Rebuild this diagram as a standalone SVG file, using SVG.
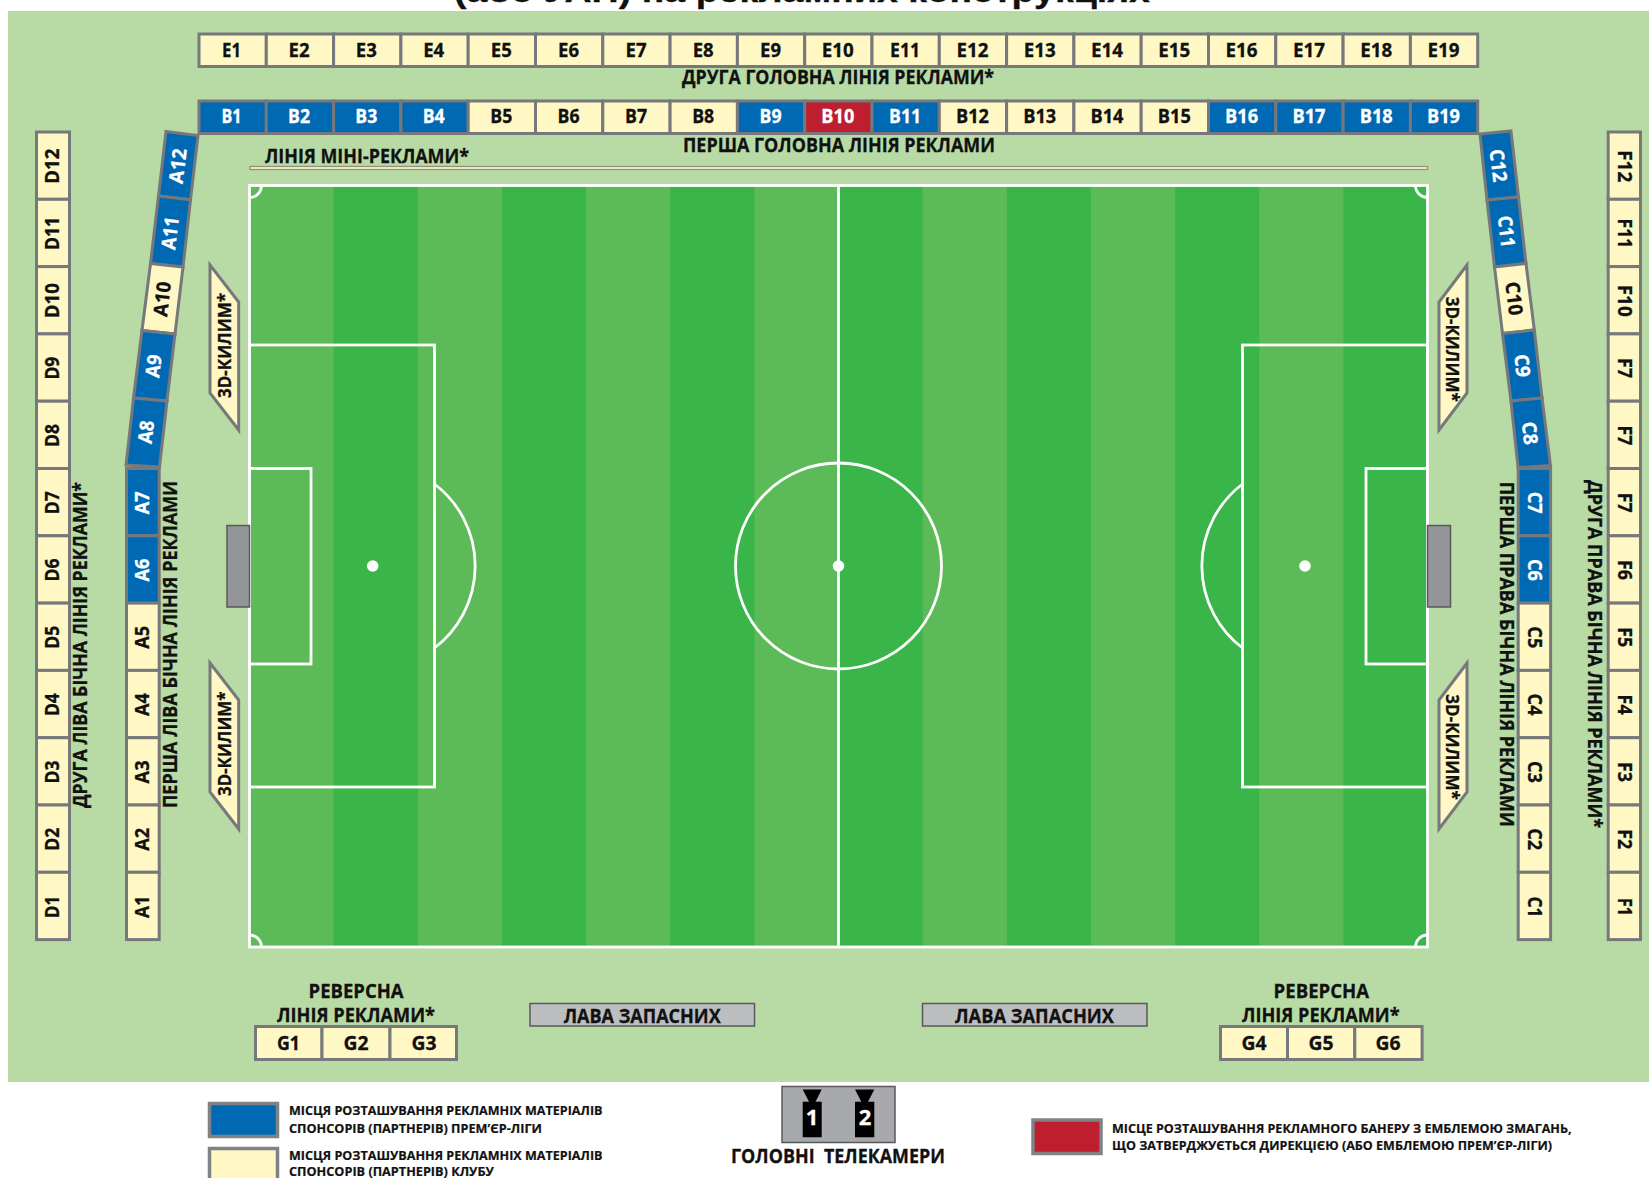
<svg xmlns="http://www.w3.org/2000/svg" width="1649" height="1178" viewBox="0 0 1649 1178">
<style>
text{font-family:"Open Sans","Noto Sans","DejaVu Sans",sans-serif;font-weight:700;fill:#111;stroke:#111;stroke-width:.3}
.l{font-size:19.5px;text-anchor:middle}
.t{fill:#fff;stroke:#fff}
.h{font-size:20px}
.m{font-size:20px;text-anchor:middle}
.k{font-size:18px}
.s{font-size:12.5px;stroke-width:.2}
.ttl{font-family:"Liberation Sans",Arial,sans-serif;font-size:32px}
.c{stroke:#77787b;stroke-width:3}
.y{fill:#fff8c4}.b{fill:#0069b4}.r{fill:#be1e2d}
.ln{fill:none;stroke:#fff;stroke-width:2.8}
.dk{fill:#39b54a}
.cam{fill:#000}
</style>
<rect width="1649" height="1178" fill="#fff"/>
<text class="ttl" x="454" y="2" textLength="696" lengthAdjust="spacingAndGlyphs">(або УАН) на рекламних конструкціях</text>
<rect id="ground" x="8" y="11" width="1641" height="1071" fill="#b8dba5"/>

<g id="field">
<rect x="249.5" y="185.5" width="1178" height="761.5" fill="#5cbb58"/>
<rect class="dk" x="333.6" y="185.5" width="84.2" height="761.5"/>
<rect class="dk" x="501.9" y="185.5" width="84.2" height="761.5"/>
<rect class="dk" x="670.2" y="185.5" width="84.2" height="761.5"/>
<rect class="dk" x="838.5" y="185.5" width="84.1" height="761.5"/>
<rect class="dk" x="1006.8" y="185.5" width="84.1" height="761.5"/>
<rect class="dk" x="1175.1" y="185.5" width="84.1" height="761.5"/>
<rect class="dk" x="1343.4" y="185.5" width="84.1" height="761.5"/>
<rect class="ln" x="249.5" y="185.5" width="1178" height="761.5"/>
<path class="ln" d="M838.5 185.5V947"/>
<circle class="ln" cx="838.5" cy="566" r="103"/>
<circle cx="838.5" cy="566" r="5.8" fill="#fff"/>
<rect class="ln" x="249.5" y="345" width="185" height="442"/>
<rect class="ln" x="249.5" y="468.5" width="61.5" height="195.5"/>
<circle cx="372.7" cy="566" r="5.8" fill="#fff"/>
<path class="ln" d="M434.5 484A103 103 0 0 1 434.5 648"/>
<rect class="ln" x="1242.5" y="345" width="185" height="442"/>
<rect class="ln" x="1366" y="468.5" width="61.5" height="195.5"/>
<circle cx="1305" cy="566" r="5.8" fill="#fff"/>
<path class="ln" d="M1242.5 484A103 103 0 0 0 1242.5 648"/>
<path class="ln" d="M261.5 185.5A12 12 0 0 1 249.5 197.5M1415.5 185.5A12 12 0 0 0 1427.5 197.5M249.5 935A12 12 0 0 1 261.5 947M1427.5 935A12 12 0 0 0 1415.5 947"/>
</g>

<g id="goal-left"><rect x="227" y="525.5" width="22.5" height="81.5" fill="#939598" stroke="#58595b" stroke-width="1.5"/></g>
<g id="goal-right"><rect x="1427.5" y="525.5" width="23" height="81.5" fill="#939598" stroke="#58595b" stroke-width="1.5"/></g>

<g id="mini-line"><rect x="250" y="166.5" width="1177.5" height="3" fill="#fff8c4" stroke="#8f8f80" stroke-width="1.3"/>
<text class="h" x="265" y="163" textLength="204" lengthAdjust="spacingAndGlyphs">ЛІНІЯ МІНІ-РЕКЛАМИ*</text></g>

<g id="labels">
<text class="h" x="682" y="84" textLength="312" lengthAdjust="spacingAndGlyphs">ДРУГА ГОЛОВНА ЛІНІЯ РЕКЛАМИ*</text>
<text class="h" x="683" y="151.5" textLength="312" lengthAdjust="spacingAndGlyphs">ПЕРША ГОЛОВНА ЛІНІЯ РЕКЛАМИ</text>
<text class="h" transform="translate(87 808) rotate(-90)" textLength="326" lengthAdjust="spacingAndGlyphs">ДРУГА ЛІВА БІЧНА ЛІНІЯ РЕКЛАМИ*</text>
<text class="h" transform="translate(176.7 808) rotate(-90)" textLength="327" lengthAdjust="spacingAndGlyphs">ПЕРША ЛІВА БІЧНА ЛІНІЯ РЕКЛАМИ</text>
<text class="h" transform="translate(1499.5 481.7) rotate(90)" textLength="345" lengthAdjust="spacingAndGlyphs">ПЕРША ПРАВА БІЧНА ЛІНІЯ РЕКЛАМИ</text>
<text class="h" transform="translate(1587.7 480) rotate(90)" textLength="348" lengthAdjust="spacingAndGlyphs">ДРУГА ПРАВА БІЧНА ЛІНІЯ РЕКЛАМИ*</text>
<text class="h" x="308.6" y="998" textLength="95" lengthAdjust="spacingAndGlyphs">РЕВЕРСНА</text>
<text class="h" x="277" y="1021.7" textLength="158" lengthAdjust="spacingAndGlyphs">ЛІНІЯ РЕКЛАМИ*</text>
<text class="h" x="1273.6" y="998" textLength="95.5" lengthAdjust="spacingAndGlyphs">РЕВЕРСНА</text>
<text class="h" x="1242" y="1021.7" textLength="157.5" lengthAdjust="spacingAndGlyphs">ЛІНІЯ РЕКЛАМИ*</text>
</g>

<g id="carpet-1"><polygon class="c y" points="210,265 238.7,302 238.7,430 210,393"/><text class="k" transform="translate(230.7 398) rotate(-90)" textLength="105" lengthAdjust="spacingAndGlyphs">3D-КИЛИМ*</text></g>
<g id="carpet-2"><polygon class="c y" points="210,663 238.7,700 238.7,829 210,792"/><text class="k" transform="translate(230.7 796) rotate(-90)" textLength="104.5" lengthAdjust="spacingAndGlyphs">3D-КИЛИМ*</text></g>
<g id="carpet-3"><polygon class="c y" points="1467,265 1439,302 1439,430 1467,393"/><text class="k" transform="translate(1445.7 296.7) rotate(90)" textLength="105" lengthAdjust="spacingAndGlyphs">3D-КИЛИМ*</text></g>
<g id="carpet-4"><polygon class="c y" points="1467,663 1439,700 1439,829 1467,792"/><text class="k" transform="translate(1445.7 694.3) rotate(90)" textLength="105.5" lengthAdjust="spacingAndGlyphs">3D-КИЛИМ*</text></g>

<g id="E1"><rect class="c y" x="199" y="34" width="67.3" height="32.5"/><text class="l" x="231.5" y="56.7" textLength="19" lengthAdjust="spacingAndGlyphs">E1</text></g>
<g id="E2"><rect class="c y" x="266.3" y="34" width="67.3" height="32.5"/><text class="l" x="299" y="56.7" textLength="21" lengthAdjust="spacingAndGlyphs">E2</text></g>
<g id="E3"><rect class="c y" x="333.6" y="34" width="67.3" height="32.5"/><text class="l" x="366.3" y="56.7" textLength="21" lengthAdjust="spacingAndGlyphs">E3</text></g>
<g id="E4"><rect class="c y" x="400.9" y="34" width="67.3" height="32.5"/><text class="l" x="433.7" y="56.7" textLength="21" lengthAdjust="spacingAndGlyphs">E4</text></g>
<g id="E5"><rect class="c y" x="468.2" y="34" width="67.3" height="32.5"/><text class="l" x="501.3" y="56.7" textLength="21" lengthAdjust="spacingAndGlyphs">E5</text></g>
<g id="E6"><rect class="c y" x="535.5" y="34" width="67.3" height="32.5"/><text class="l" x="568.6" y="56.7" textLength="21" lengthAdjust="spacingAndGlyphs">E6</text></g>
<g id="E7"><rect class="c y" x="602.8" y="34" width="67.3" height="32.5"/><text class="l" x="636" y="56.7" textLength="21" lengthAdjust="spacingAndGlyphs">E7</text></g>
<g id="E8"><rect class="c y" x="670.1" y="34" width="67.3" height="32.5"/><text class="l" x="703.2" y="56.7" textLength="21" lengthAdjust="spacingAndGlyphs">E8</text></g>
<g id="E9"><rect class="c y" x="737.4" y="34" width="67.3" height="32.5"/><text class="l" x="770.5" y="56.7" textLength="21" lengthAdjust="spacingAndGlyphs">E9</text></g>
<g id="E10"><rect class="c y" x="804.7" y="34" width="67.3" height="32.5"/><text class="l" x="837.8" y="56.7" textLength="32" lengthAdjust="spacingAndGlyphs">E10</text></g>
<g id="E11"><rect class="c y" x="872" y="34" width="67.3" height="32.5"/><text class="l" x="905.1" y="56.7" textLength="30" lengthAdjust="spacingAndGlyphs">E11</text></g>
<g id="E12"><rect class="c y" x="939.3" y="34" width="67.3" height="32.5"/><text class="l" x="972.5" y="56.7" textLength="32" lengthAdjust="spacingAndGlyphs">E12</text></g>
<g id="E13"><rect class="c y" x="1006.6" y="34" width="67.3" height="32.5"/><text class="l" x="1039.7" y="56.7" textLength="32" lengthAdjust="spacingAndGlyphs">E13</text></g>
<g id="E14"><rect class="c y" x="1073.9" y="34" width="67.3" height="32.5"/><text class="l" x="1107" y="56.7" textLength="32" lengthAdjust="spacingAndGlyphs">E14</text></g>
<g id="E15"><rect class="c y" x="1141.2" y="34" width="67.3" height="32.5"/><text class="l" x="1174.3" y="56.7" textLength="32" lengthAdjust="spacingAndGlyphs">E15</text></g>
<g id="E16"><rect class="c y" x="1208.5" y="34" width="67.3" height="32.5"/><text class="l" x="1241.6" y="56.7" textLength="32" lengthAdjust="spacingAndGlyphs">E16</text></g>
<g id="E17"><rect class="c y" x="1275.8" y="34" width="67.3" height="32.5"/><text class="l" x="1309" y="56.7" textLength="32" lengthAdjust="spacingAndGlyphs">E17</text></g>
<g id="E18"><rect class="c y" x="1343.1" y="34" width="67.3" height="32.5"/><text class="l" x="1376.2" y="56.7" textLength="32" lengthAdjust="spacingAndGlyphs">E18</text></g>
<g id="E19"><rect class="c y" x="1410.4" y="34" width="67.3" height="32.5"/><text class="l" x="1443.5" y="56.7" textLength="32" lengthAdjust="spacingAndGlyphs">E19</text></g>

<g id="B1"><rect class="c b" x="199" y="101" width="67.3" height="32.5"/><text class="l t" x="231.5" y="123.3" textLength="20" lengthAdjust="spacingAndGlyphs">B1</text></g>
<g id="B2"><rect class="c b" x="266.3" y="101" width="67.3" height="32.5"/><text class="l t" x="299" y="123.3" textLength="22" lengthAdjust="spacingAndGlyphs">B2</text></g>
<g id="B3"><rect class="c b" x="333.6" y="101" width="67.3" height="32.5"/><text class="l t" x="366.3" y="123.3" textLength="22" lengthAdjust="spacingAndGlyphs">B3</text></g>
<g id="B4"><rect class="c b" x="400.9" y="101" width="67.3" height="32.5"/><text class="l t" x="433.7" y="123.3" textLength="22" lengthAdjust="spacingAndGlyphs">B4</text></g>
<g id="B5"><rect class="c y" x="468.2" y="101" width="67.3" height="32.5"/><text class="l" x="501.3" y="123.3" textLength="22" lengthAdjust="spacingAndGlyphs">B5</text></g>
<g id="B6"><rect class="c y" x="535.5" y="101" width="67.3" height="32.5"/><text class="l" x="568.6" y="123.3" textLength="22" lengthAdjust="spacingAndGlyphs">B6</text></g>
<g id="B7"><rect class="c y" x="602.8" y="101" width="67.3" height="32.5"/><text class="l" x="636" y="123.3" textLength="22" lengthAdjust="spacingAndGlyphs">B7</text></g>
<g id="B8"><rect class="c y" x="670.1" y="101" width="67.3" height="32.5"/><text class="l" x="703.2" y="123.3" textLength="22" lengthAdjust="spacingAndGlyphs">B8</text></g>
<g id="B9"><rect class="c b" x="737.4" y="101" width="67.3" height="32.5"/><text class="l t" x="770.5" y="123.3" textLength="22" lengthAdjust="spacingAndGlyphs">B9</text></g>
<g id="B10"><rect class="c r" x="804.7" y="101" width="67.3" height="32.5"/><text class="l t" x="837.8" y="123.3" textLength="33" lengthAdjust="spacingAndGlyphs">B10</text></g>
<g id="B11"><rect class="c b" x="872" y="101" width="67.3" height="32.5"/><text class="l t" x="905.1" y="123.3" textLength="32" lengthAdjust="spacingAndGlyphs">B11</text></g>
<g id="B12"><rect class="c y" x="939.3" y="101" width="67.3" height="32.5"/><text class="l" x="972.5" y="123.3" textLength="33" lengthAdjust="spacingAndGlyphs">B12</text></g>
<g id="B13"><rect class="c y" x="1006.6" y="101" width="67.3" height="32.5"/><text class="l" x="1039.7" y="123.3" textLength="33" lengthAdjust="spacingAndGlyphs">B13</text></g>
<g id="B14"><rect class="c y" x="1073.9" y="101" width="67.3" height="32.5"/><text class="l" x="1107" y="123.3" textLength="33" lengthAdjust="spacingAndGlyphs">B14</text></g>
<g id="B15"><rect class="c y" x="1141.2" y="101" width="67.3" height="32.5"/><text class="l" x="1174.3" y="123.3" textLength="33" lengthAdjust="spacingAndGlyphs">B15</text></g>
<g id="B16"><rect class="c b" x="1208.5" y="101" width="67.3" height="32.5"/><text class="l t" x="1241.6" y="123.3" textLength="33" lengthAdjust="spacingAndGlyphs">B16</text></g>
<g id="B17"><rect class="c b" x="1275.8" y="101" width="67.3" height="32.5"/><text class="l t" x="1309" y="123.3" textLength="33" lengthAdjust="spacingAndGlyphs">B17</text></g>
<g id="B18"><rect class="c b" x="1343.1" y="101" width="67.3" height="32.5"/><text class="l t" x="1376.2" y="123.3" textLength="33" lengthAdjust="spacingAndGlyphs">B18</text></g>
<g id="B19"><rect class="c b" x="1410.4" y="101" width="67.3" height="32.5"/><text class="l t" x="1443.5" y="123.3" textLength="33" lengthAdjust="spacingAndGlyphs">B19</text></g>

<g id="D12"><rect class="c y" x="36.5" y="132" width="33" height="67.3"/><text class="l" transform="translate(51.5 166.2) rotate(-90)" y="7" textLength="35" lengthAdjust="spacingAndGlyphs">D12</text></g>
<g id="D11"><rect class="c y" x="36.5" y="199.3" width="33" height="67.3"/><text class="l" transform="translate(51.5 233.5) rotate(-90)" y="7" textLength="33" lengthAdjust="spacingAndGlyphs">D11</text></g>
<g id="D10"><rect class="c y" x="36.5" y="266.6" width="33" height="67.3"/><text class="l" transform="translate(51.5 300.7) rotate(-90)" y="7" textLength="35" lengthAdjust="spacingAndGlyphs">D10</text></g>
<g id="D9"><rect class="c y" x="36.5" y="333.9" width="33" height="67.3"/><text class="l" transform="translate(51.5 368.1) rotate(-90)" y="7" textLength="23" lengthAdjust="spacingAndGlyphs">D9</text></g>
<g id="D8"><rect class="c y" x="36.5" y="401.2" width="33" height="67.3"/><text class="l" transform="translate(51.5 435.4) rotate(-90)" y="7" textLength="23" lengthAdjust="spacingAndGlyphs">D8</text></g>
<g id="D7"><rect class="c y" x="36.5" y="468.5" width="33" height="67.3"/><text class="l" transform="translate(51.5 502.7) rotate(-90)" y="7" textLength="23" lengthAdjust="spacingAndGlyphs">D7</text></g>
<g id="D6"><rect class="c y" x="36.5" y="535.8" width="33" height="67.3"/><text class="l" transform="translate(51.5 570) rotate(-90)" y="7" textLength="23" lengthAdjust="spacingAndGlyphs">D6</text></g>
<g id="D5"><rect class="c y" x="36.5" y="603.1" width="33" height="67.3"/><text class="l" transform="translate(51.5 637.3) rotate(-90)" y="7" textLength="23" lengthAdjust="spacingAndGlyphs">D5</text></g>
<g id="D4"><rect class="c y" x="36.5" y="670.4" width="33" height="67.3"/><text class="l" transform="translate(51.5 704.6) rotate(-90)" y="7" textLength="23" lengthAdjust="spacingAndGlyphs">D4</text></g>
<g id="D3"><rect class="c y" x="36.5" y="737.7" width="33" height="67.3"/><text class="l" transform="translate(51.5 771.9) rotate(-90)" y="7" textLength="23" lengthAdjust="spacingAndGlyphs">D3</text></g>
<g id="D2"><rect class="c y" x="36.5" y="805" width="33" height="67.3"/><text class="l" transform="translate(51.5 839.2) rotate(-90)" y="7" textLength="23" lengthAdjust="spacingAndGlyphs">D2</text></g>
<g id="D1"><rect class="c y" x="36.5" y="872.3" width="33" height="67.3"/><text class="l" transform="translate(51.5 906.9) rotate(-90)" y="7" textLength="22" lengthAdjust="spacingAndGlyphs">D1</text></g>

<g id="A12"><polygon class="c b" points="166,131.5 198,135.5 190.5,199.8 158.5,196"/><text class="l t" transform="translate(177.7 166) rotate(-83.3)" y="7" textLength="35" lengthAdjust="spacingAndGlyphs">A12</text></g>
<g id="A11"><polygon class="c b" points="158.5,196 190.5,199.8 183,267 150.5,263.5"/><text class="l t" transform="translate(170 233) rotate(-83.3)" y="7" textLength="33" lengthAdjust="spacingAndGlyphs">A11</text></g>
<g id="A10"><polygon class="c y" points="150.5,263.5 183,267 175,334 142,330.5"/><text class="l" transform="translate(162 299) rotate(-83.3)" y="7" textLength="35" lengthAdjust="spacingAndGlyphs">A10</text></g>
<g id="A9"><polygon class="c b" points="142,330.5 175,334 167,401 133.5,398"/><text class="l t" transform="translate(153.5 366) rotate(-83.3)" y="7" textLength="23" lengthAdjust="spacingAndGlyphs">A9</text></g>
<g id="A8"><polygon class="c b" points="133.5,398 167,401 159.5,467 126,465"/><text class="l t" transform="translate(146 432) rotate(-83.3)" y="7" textLength="23" lengthAdjust="spacingAndGlyphs">A8</text></g>
<g id="A7"><rect class="c b" x="126.5" y="468.5" width="32.7" height="67.3"/><text class="l t" transform="translate(141.5 502.7) rotate(-90)" y="7" textLength="23" lengthAdjust="spacingAndGlyphs">A7</text></g>
<g id="A6"><rect class="c b" x="126.5" y="535.8" width="32.7" height="67.3"/><text class="l t" transform="translate(141.5 570) rotate(-90)" y="7" textLength="23" lengthAdjust="spacingAndGlyphs">A6</text></g>
<g id="A5"><rect class="c y" x="126.5" y="603.1" width="32.7" height="67.3"/><text class="l" transform="translate(141.5 637.3) rotate(-90)" y="7" textLength="23" lengthAdjust="spacingAndGlyphs">A5</text></g>
<g id="A4"><rect class="c y" x="126.5" y="670.4" width="32.7" height="67.3"/><text class="l" transform="translate(141.5 704.6) rotate(-90)" y="7" textLength="23" lengthAdjust="spacingAndGlyphs">A4</text></g>
<g id="A3"><rect class="c y" x="126.5" y="737.7" width="32.7" height="67.3"/><text class="l" transform="translate(141.5 771.9) rotate(-90)" y="7" textLength="23" lengthAdjust="spacingAndGlyphs">A3</text></g>
<g id="A2"><rect class="c y" x="126.5" y="805" width="32.7" height="67.3"/><text class="l" transform="translate(141.5 839.2) rotate(-90)" y="7" textLength="23" lengthAdjust="spacingAndGlyphs">A2</text></g>
<g id="A1"><rect class="c y" x="126.5" y="872.3" width="32.7" height="67.3"/><text class="l" transform="translate(141.5 906.9) rotate(-90)" y="7" textLength="22" lengthAdjust="spacingAndGlyphs">A1</text></g>

<g id="C12"><polygon class="c b" points="1480,134 1511,131 1518.5,197 1487,200"/><text class="l t" transform="translate(1498.5 165.5) rotate(83.3)" y="7" textLength="33" lengthAdjust="spacingAndGlyphs">C12</text></g>
<g id="C11"><polygon class="c b" points="1487,200 1518.5,197 1526,263.5 1494.5,267"/><text class="l t" transform="translate(1506.5 231.5) rotate(83.3)" y="7" textLength="32" lengthAdjust="spacingAndGlyphs">C11</text></g>
<g id="C10"><polygon class="c y" points="1494.5,267 1526,263.5 1534.3,330 1502.5,333.5"/><text class="l" transform="translate(1514.2 298.5) rotate(83.3)" y="7" textLength="34" lengthAdjust="spacingAndGlyphs">C10</text></g>
<g id="C9"><polygon class="c b" points="1502.5,333.5 1534.3,330 1542,398 1511,401"/><text class="l t" transform="translate(1522.5 365.5) rotate(83.3)" y="7" textLength="23" lengthAdjust="spacingAndGlyphs">C9</text></g>
<g id="C8"><polygon class="c b" points="1511,401 1542,398 1550.5,465.5 1518,467.5"/><text class="l t" transform="translate(1530 433) rotate(83.3)" y="7" textLength="23" lengthAdjust="spacingAndGlyphs">C8</text></g>
<g id="C7"><rect class="c b" x="1518.2" y="468.5" width="32.4" height="67.3"/><text class="l t" transform="translate(1535.3 502.7) rotate(90)" y="7" textLength="22" lengthAdjust="spacingAndGlyphs">C7</text></g>
<g id="C6"><rect class="c b" x="1518.2" y="535.8" width="32.4" height="67.3"/><text class="l t" transform="translate(1535.3 570) rotate(90)" y="7" textLength="22" lengthAdjust="spacingAndGlyphs">C6</text></g>
<g id="C5"><rect class="c y" x="1518.2" y="603.1" width="32.4" height="67.3"/><text class="l" transform="translate(1535.3 637.3) rotate(90)" y="7" textLength="22" lengthAdjust="spacingAndGlyphs">C5</text></g>
<g id="C4"><rect class="c y" x="1518.2" y="670.4" width="32.4" height="67.3"/><text class="l" transform="translate(1535.3 704.6) rotate(90)" y="7" textLength="22" lengthAdjust="spacingAndGlyphs">C4</text></g>
<g id="C3"><rect class="c y" x="1518.2" y="737.7" width="32.4" height="67.3"/><text class="l" transform="translate(1535.3 771.9) rotate(90)" y="7" textLength="22" lengthAdjust="spacingAndGlyphs">C3</text></g>
<g id="C2"><rect class="c y" x="1518.2" y="805" width="32.4" height="67.3"/><text class="l" transform="translate(1535.3 839.2) rotate(90)" y="7" textLength="22" lengthAdjust="spacingAndGlyphs">C2</text></g>
<g id="C1"><rect class="c y" x="1518.2" y="872.3" width="32.4" height="67.3"/><text class="l" transform="translate(1535.3 906.9) rotate(90)" y="7" textLength="21" lengthAdjust="spacingAndGlyphs">C1</text></g>

<g id="F12"><rect class="c y" x="1608.2" y="132" width="32.3" height="67.3"/><text class="l" transform="translate(1625 166.2) rotate(90)" y="7" textLength="32" lengthAdjust="spacingAndGlyphs">F12</text></g>
<g id="F11"><rect class="c y" x="1608.2" y="199.3" width="32.3" height="67.3"/><text class="l" transform="translate(1625 233.5) rotate(90)" y="7" textLength="30" lengthAdjust="spacingAndGlyphs">F11</text></g>
<g id="F10"><rect class="c y" x="1608.2" y="266.6" width="32.3" height="67.3"/><text class="l" transform="translate(1625 300.7) rotate(90)" y="7" textLength="32" lengthAdjust="spacingAndGlyphs">F10</text></g>
<g id="F9"><rect class="c y" x="1608.2" y="333.9" width="32.3" height="67.3"/><text class="l" transform="translate(1625 368.1) rotate(90)" y="7" textLength="20" lengthAdjust="spacingAndGlyphs">F7</text></g>
<g id="F8"><rect class="c y" x="1608.2" y="401.2" width="32.3" height="67.3"/><text class="l" transform="translate(1625 435.4) rotate(90)" y="7" textLength="20" lengthAdjust="spacingAndGlyphs">F7</text></g>
<g id="F7"><rect class="c y" x="1608.2" y="468.5" width="32.3" height="67.3"/><text class="l" transform="translate(1625 502.7) rotate(90)" y="7" textLength="20" lengthAdjust="spacingAndGlyphs">F7</text></g>
<g id="F6"><rect class="c y" x="1608.2" y="535.8" width="32.3" height="67.3"/><text class="l" transform="translate(1625 570) rotate(90)" y="7" textLength="20" lengthAdjust="spacingAndGlyphs">F6</text></g>
<g id="F5"><rect class="c y" x="1608.2" y="603.1" width="32.3" height="67.3"/><text class="l" transform="translate(1625 637.3) rotate(90)" y="7" textLength="20" lengthAdjust="spacingAndGlyphs">F5</text></g>
<g id="F4"><rect class="c y" x="1608.2" y="670.4" width="32.3" height="67.3"/><text class="l" transform="translate(1625 704.6) rotate(90)" y="7" textLength="20" lengthAdjust="spacingAndGlyphs">F4</text></g>
<g id="F3"><rect class="c y" x="1608.2" y="737.7" width="32.3" height="67.3"/><text class="l" transform="translate(1625 771.9) rotate(90)" y="7" textLength="20" lengthAdjust="spacingAndGlyphs">F3</text></g>
<g id="F2"><rect class="c y" x="1608.2" y="805" width="32.3" height="67.3"/><text class="l" transform="translate(1625 839.2) rotate(90)" y="7" textLength="20" lengthAdjust="spacingAndGlyphs">F2</text></g>
<g id="F1"><rect class="c y" x="1608.2" y="872.3" width="32.3" height="67.3"/><text class="l" transform="translate(1625 906.9) rotate(90)" y="7" textLength="18" lengthAdjust="spacingAndGlyphs">F1</text></g>

<g id="G1"><rect class="c y" x="255.5" y="1026.5" width="66.5" height="33"/><text class="l" x="288.5" y="1049.5" textLength="23" lengthAdjust="spacingAndGlyphs">G1</text></g>
<g id="G2"><rect class="c y" x="322" y="1026.5" width="68" height="33"/><text class="l" x="356" y="1049.5" textLength="25" lengthAdjust="spacingAndGlyphs">G2</text></g>
<g id="G3"><rect class="c y" x="390" y="1026.5" width="66.5" height="33"/><text class="l" x="424" y="1049.5" textLength="25" lengthAdjust="spacingAndGlyphs">G3</text></g>
<g id="G4"><rect class="c y" x="1220.5" y="1026.5" width="67" height="33"/><text class="l" x="1254" y="1049.5" textLength="25" lengthAdjust="spacingAndGlyphs">G4</text></g>
<g id="G5"><rect class="c y" x="1287.5" y="1026.5" width="67.3" height="33"/><text class="l" x="1321" y="1049.5" textLength="25" lengthAdjust="spacingAndGlyphs">G5</text></g>
<g id="G6"><rect class="c y" x="1354.8" y="1026.5" width="67.3" height="33"/><text class="l" x="1388" y="1049.5" textLength="25" lengthAdjust="spacingAndGlyphs">G6</text></g>

<g id="bench-left"><rect x="530" y="1003.5" width="224.5" height="22.5" fill="#bcbec0" stroke="#58595b" stroke-width="1.5"/><text class="h" x="563.7" y="1022.7" textLength="157" lengthAdjust="spacingAndGlyphs">ЛАВА ЗАПАСНИХ</text></g>
<g id="bench-right"><rect x="922.5" y="1003.5" width="224.5" height="22.5" fill="#bcbec0" stroke="#58595b" stroke-width="1.5"/><text class="h" x="955" y="1022.7" textLength="159" lengthAdjust="spacingAndGlyphs">ЛАВА ЗАПАСНИХ</text></g>

<g id="cameras">
<rect x="782" y="1086.5" width="113" height="56" fill="#a7a9ac" stroke="#58595b" stroke-width="1.5"/>
<path class="cam" d="M802.7 1089.5H821.7L815.5 1101.7H821.7V1137.3H802.7V1101.7H809Z"/>
<path class="cam" d="M855 1089.5H874.3L868 1101.7H874.3V1137.3H855V1101.7H861.3Z"/>
<text class="t" x="812" y="1125" font-size="22" text-anchor="middle">1</text>
<text class="t" x="865" y="1125" font-size="22" text-anchor="middle">2</text>
<text x="731" y="1162.7" font-size="19" textLength="214" lengthAdjust="spacingAndGlyphs" xml:space="preserve">ГОЛОВНІ  ТЕЛЕКАМЕРИ</text>
</g>

<g id="legend-blue"><rect x="209.5" y="1103.5" width="68" height="33" fill="#0069b4" stroke="#808285" stroke-width="3.5"/>
<text class="s" x="289" y="1115" textLength="313.5" lengthAdjust="spacingAndGlyphs">МІСЦЯ РОЗТАШУВАННЯ РЕКЛАМНІХ МАТЕРІАЛІВ</text>
<text class="s" x="289" y="1132.7" textLength="253" lengthAdjust="spacingAndGlyphs">СПОНСОРІВ (ПАРТНЕРІВ) ПРЕМ’ЄР-ЛІГИ</text></g>
<g id="legend-yellow"><rect x="209.5" y="1148.5" width="68" height="40" fill="#fff8c4" stroke="#808285" stroke-width="3.5"/>
<text class="s" x="289" y="1160" textLength="313.5" lengthAdjust="spacingAndGlyphs">МІСЦЯ РОЗТАШУВАННЯ РЕКЛАМНІХ МАТЕРІАЛІВ</text>
<text class="s" x="289" y="1176" textLength="205" lengthAdjust="spacingAndGlyphs">СПОНСОРІВ (ПАРТНЕРІВ) КЛУБУ</text></g>
<g id="legend-red"><rect x="1033" y="1120" width="68" height="33.5" fill="#be1e2d" stroke="#808285" stroke-width="3.5"/>
<text class="s" x="1112" y="1132.7" textLength="459.5" lengthAdjust="spacingAndGlyphs">МІСЦЕ РОЗТАШУВАННЯ РЕКЛАМНОГО БАНЕРУ З ЕМБЛЕМОЮ ЗМАГАНЬ,</text>
<text class="s" x="1112" y="1150" textLength="440" lengthAdjust="spacingAndGlyphs">ЩО ЗАТВЕРДЖУЄТЬСЯ ДИРЕКЦІЄЮ (АБО ЕМБЛЕМОЮ ПРЕМ’ЄР-ЛІГИ)</text></g>
</svg>
